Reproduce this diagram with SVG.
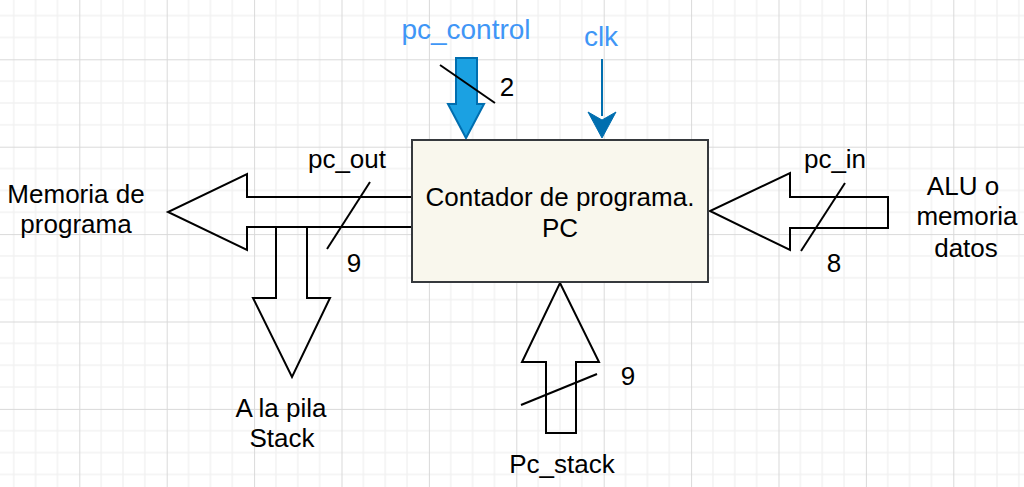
<svg xmlns="http://www.w3.org/2000/svg" width="1024" height="487" viewBox="0 0 1024 487">
  <style>
    .t { font-family: "Liberation Sans", Arial, sans-serif; font-size: 26px; fill: #000; text-anchor: middle; }
    .b { font-family: "Liberation Sans", Arial, sans-serif; font-size: 28px; fill: #3f96f6; text-anchor: middle; }
    .arr { fill: none; stroke: #000; stroke-width: 2; stroke-linejoin: miter; }
    .sl { stroke: #000; stroke-width: 2; }
  </style>
  <defs>
    <pattern id="grid" patternUnits="userSpaceOnUse" x="-8.1" y="-28.1" width="87.4" height="87.4">
      <path d="M21.85 0V87.4M43.7 0V87.4M65.55 0V87.4M0 21.85H87.4M0 43.7H87.4M0 65.55H87.4" stroke="#f2f2f2" stroke-width="1.5" fill="none"/>
      <path d="M0.5 0V87.4M0 0.5H87.4" stroke="#d9d9d9" stroke-width="1" fill="none"/>
    </pattern>
  </defs>
  <rect width="1024" height="487" fill="#ffffff"/>
  <rect width="1024" height="487" fill="url(#grid)"/>

  <g id="connectors">
    <polygon id="arrow-pc-out" class="arr" points="413,197 247,197 247,174 168,212 247,250 247,227 413,227"/>
    <polygon id="arrow-stack" class="arr" points="276,227 307,227 307,298 330,298 292,377 253,298 276,298"/>
    <polygon id="arrow-pc-stack" class="arr" points="560,283 599,362 576,362 576,433 546,433 546,362 522,362"/>
    <polygon id="arrow-pc-in" class="arr" points="888,197 790,197 790,173 710,211 790,250 790,228 888,228"/>
    <polygon id="arrow-pc-control" points="456,58 477,58 477,104 484,104 466,138 448,104 456,104" fill="#1ba1e2" stroke="#006eaf" stroke-width="2"/>
    <g id="arrow-clk">
      <line x1="602" y1="59" x2="602" y2="116" stroke="#006eaf" stroke-width="2"/>
      <polygon points="588,112 602,138 616,112 602,120" fill="#006eaf" stroke="#006eaf" stroke-width="1"/>
    </g>
    <line class="sl" x1="440" y1="65" x2="495" y2="103"/>
    <line class="sl" x1="370" y1="182" x2="327" y2="249"/>
    <line class="sl" x1="845" y1="183" x2="801" y2="251"/>
    <line class="sl" x1="521" y1="405" x2="597" y2="374"/>
  </g>

  <g id="node-pc">
    <rect x="412" y="140" width="296" height="142" fill="#f9f7ed" stroke="#36393d" stroke-width="2"/>
    <text class="t" x="560" y="206">Contador de programa.</text>
    <text class="t" x="560" y="237">PC</text>
  </g>

  <g id="labels">
    <text class="b" x="466" y="39">pc_control</text>
    <text class="b" x="601" y="46">clk</text>
    <text class="t" x="507" y="96">2</text>
    <text class="t" x="347" y="168">pc_out</text>
    <text class="t" x="354" y="272">9</text>
    <text class="t" x="76" y="203">Memoria de</text>
    <text class="t" x="76" y="233">programa</text>
    <text class="t" x="281" y="417">A la pila</text>
    <text class="t" x="282" y="447">Stack</text>
    <text class="t" x="835" y="168">pc_in</text>
    <text class="t" x="834" y="272">8</text>
    <text class="t" x="963" y="195">ALU o</text>
    <text class="t" x="967" y="225">memoria</text>
    <text class="t" x="966" y="257">datos</text>
    <text class="t" x="628" y="385">9</text>
    <text class="t" x="562" y="473">Pc_stack</text>
  </g>
</svg>
